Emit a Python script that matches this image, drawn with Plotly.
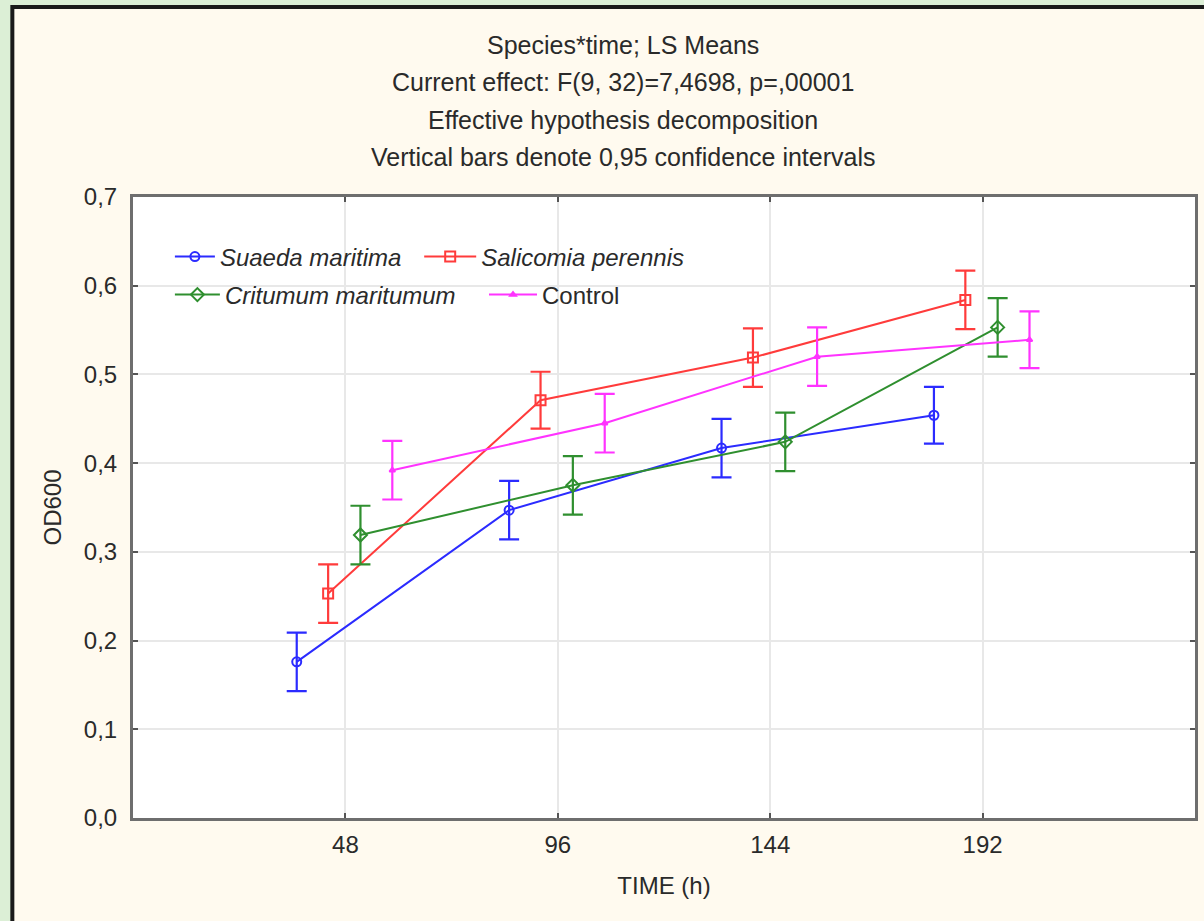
import plotly.graph_objects as go

# Sampling times (h) and LS means of OD600 per group
times = [48, 96, 144, 192]
suaeda = [0.176, 0.347, 0.417, 0.454]
salicornia = [0.253, 0.471, 0.519, 0.584]
critumum = [0.319, 0.375, 0.424, 0.553]
control = [0.392, 0.445, 0.520, 0.539]
# half-widths of the 0.95 confidence intervals
ci_suaeda = [0.033, 0.033, 0.033, 0.032]
ci_salicornia = [0.033, 0.032, 0.033, 0.033]
ci_critumum = [0.033, 0.033, 0.033, 0.033]
ci_control = [0.033, 0.033, 0.033, 0.032]

series_names = ["<i>Suaeda maritima</i>", "<i>Salicomia perennis</i>",
                "<i>Critumum maritumum</i>", "Control"]
title_lines = ["Species*time; LS Means",
               "Current effect: F(9, 32)=7,4698, p=,00001",
               "Effective hypothesis decomposition",
               "Vertical bars denote 0,95 confidence intervals"]

W, H = 1204, 921
L, R, T, B = 133, 6, 197, 103
PW, PH = W - L - R, H - T - B

FONT = "Liberation Sans, Arial, sans-serif"
TXT = "#2a2a2a"


def px_x(p):
    return (p - L) / PW


def px_y(p):
    return (H - B - p) / PH


fig = go.Figure()

specs = [
    (suaeda, ci_suaeda, "#2b2bff", "circle-open", 9, -11.0, "legend"),
    (salicornia, ci_salicornia, "#ff3b3b", "square-open", 10, -3.9, "legend2"),
    (critumum, ci_critumum, "#2f8f2f", "diamond-open", 10, 3.4, "legend3"),
    (control, ci_control, "#ff33ff", "triangle-up-open", 5, 10.6, "legend4"),
]

for name, (vals, ci, col, sym, size, dodge, leg) in zip(series_names, specs):
    fig.add_trace(go.Scatter(
        x=[t + dodge for t in times], y=vals, name=name,
        mode="lines+markers",
        line=dict(color=col, width=2),
        marker=dict(symbol=sym, size=size, color=col, line=dict(color=col, width=2)),
        error_y=dict(type="data", array=ci, visible=True, color=col,
                     thickness=2.2, width=10),
        legend=leg,
    ))

# cream panel with dark frame behind the chart, white plotting area on top of it
fig.add_shape(type="rect", xref="paper", yref="paper",
              x0=px_x(12), x1=px_x(W + 10), y0=px_y(H + 10), y1=px_y(7),
              fillcolor="#fffaef", line=dict(color="#1a1a1a", width=4),
              layer="below")
fig.add_shape(type="rect", xref="paper", yref="paper", x0=0, x1=1, y0=0, y1=1,
              fillcolor="#ffffff", line=dict(width=0), layer="below")

for i, line in enumerate(title_lines):
    fig.add_annotation(text=line, xref="paper", yref="paper",
                       x=px_x(624), y=px_y(45 + i * 37.3),
                       xanchor="center", yanchor="middle", showarrow=False,
                       font=dict(family=FONT, size=25, color=TXT))

axis_common = dict(showline=True, linecolor="#6e6e6e", linewidth=3, mirror="ticks",
                   ticks="inside", ticklen=5, tickcolor="#555555", tickwidth=2,
                   showgrid=True, gridcolor="#e8e8e8", gridwidth=2, zeroline=False,
                   tickfont=dict(family=FONT, size=24, color=TXT))

fig.update_xaxes(range=[0, 240], tickvals=times, ticktext=[str(t) for t in times],
                 title=dict(text="TIME (h)", font=dict(family=FONT, size=24, color=TXT),
                            standoff=21),
                 ticklabelstandoff=3, **axis_common)
fig.update_yaxes(range=[0, 0.7], dtick=0.1, tickformat=".1f",
                 title=dict(text="OD600", font=dict(family=FONT, size=24, color=TXT),
                            standoff=16),
                 ticklabelstandoff=8, **axis_common)


def legend_box(left_px, mid_px, item_w):
    return dict(orientation="h", xanchor="left", yanchor="middle",
                x=px_x(left_px), y=px_y(mid_px),
                bgcolor="rgba(0,0,0,0)", borderwidth=0,
                font=dict(family=FONT, size=24, color=TXT),
                itemwidth=item_w)


fig.update_layout(
    width=W, height=H,
    margin=dict(l=L, r=R, t=T, b=B),
    paper_bgcolor="#dcefd6",
    plot_bgcolor="#ffffff",
    separators=",.",
    showlegend=True,
    legend=legend_box(170, 257, 40),
    legend2=legend_box(420, 257, 52),
    legend3=legend_box(170, 295, 45),
    legend4=legend_box(485, 295, 48),
)

fig.write_html("out.html")
